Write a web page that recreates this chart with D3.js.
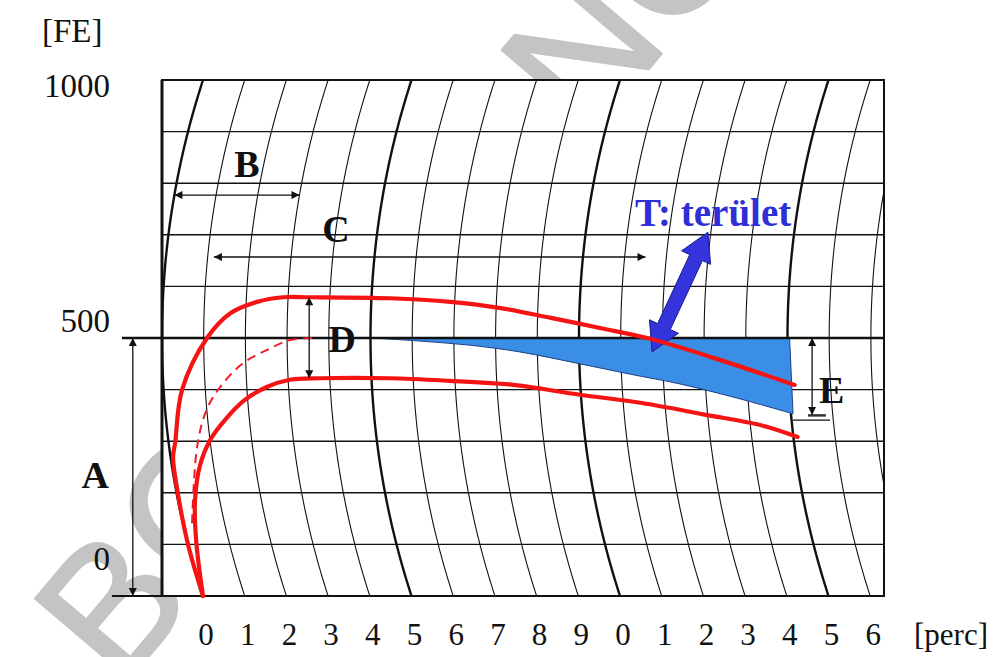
<!DOCTYPE html>
<html><head><meta charset="utf-8">
<script src="https://cdn.jsdelivr.net/npm/d3@7"></script>
<style>body{margin:0;background:#fff}svg{display:block}</style>
</head><body>
<svg id="chart" width="1001" height="657"></svg>
<script>
// ---- data ----------------------------------------------------------------
// time axis in minutes, amplitude axis in FE
const timeTicks  = d3.range(0, 17);
const timeLabels = ["0","1","2","3","4","5","6","7","8","9","0","1","2","3","4","5","6"];
const gridTimes  = d3.range(-1, 18);          // curved time lines of the recording paper
const majorTimes = [0, 5, 10, 15];
const feGrid     = d3.range(0, 1001, 100);
const feTicks    = [1000, 500, 0];
const feTickText = ["1000", "500", "0"];

// traces as [minute, FE]
const upperTrace = [[0,0],[0,99],[0.03,200],[0.06,269],[0.16,298],[0.44,399],[1.08,500],[1.63,548],
  [2.26,570],[2.88,579],[3.53,579],[5.46,577],[6.9,570],[8.11,558],[9.32,539],[10.53,519],
  [11.73,498],[13.24,461],[15.14,409]];
const lowerTrace = [[0,0],[0.22,108],[0.41,186],[0.68,254],[1.0,302],[1.41,341],[1.93,380],[2.48,405],
  [3.04,419],[3.77,422],[5.44,422],[6.88,417],[8.3,410],[9.98,390],[11.45,374],[12.9,352],[14.3,330],[15.1,308]];
const meanTrace  = [[0.22,141],[0.67,289],[0.99,360],[1.36,405],[1.93,451],[2.52,477],[3.07,496],[3.62,500]];
// shaded area T, between the 500 FE level and its lower boundary
const areaLower  = [[5.04,500],[6.19,494],[7.39,486],[8.58,473],[10.01,450],[11.2,430],[12.39,411],[13.81,382],[15.05,353]];

// measured intervals with the level they are drawn at
const spanA = {t: -0.7, from: 0, to: 500};
const spanB = {fe: 777, from: 0, to: 3};
const spanC = {fe: 657, from: 1.15, to: 11.5};
const spanD = {t: 3.53, from: 422, to: 579};
const spanE = {t: 15.59, from: 500, to: 351};
const arrowT = {from: [11.75, 473], to: [12.93, 705]};

// ---- scales --------------------------------------------------------------
const svg = d3.select("#chart");
const plot = {left: 162, top: 80, right: 884, bottom: 596};
const fe = d3.scaleLinear().domain([0, 1000]).range([plot.bottom, plot.top]);
const tm = d3.scaleLinear().domain([0, 16]).range([plot.left, plot.left + 41.7 * 16]);
const armR = 832;                        // radius of the curved time lines
const midY = fe(500);
function px(t, v) {
  const y = fe(v), dy = y - midY;
  return [tm(t) + armR - Math.sqrt(armR * armR - dy * dy), y];
}
const serif = "'Liberation Serif','Times New Roman',serif";
const ink = "#111";

// ---- watermark (sits under the paper) -------------------------------------
svg.append("text")
  .attr("transform", "translate(120,690) rotate(-49.6)")
  .attr("font-family", "'Liberation Sans',Arial,sans-serif")
  .attr("font-size", 180)
  .attr("fill", "#c4c4c4").attr("stroke", "#c4c4c4").attr("stroke-width", 2.5)
  .attr("stroke-linejoin", "round")
  .style("white-space", "pre")
  .text("BCE       NOE");

// ---- paper ---------------------------------------------------------------
const defs = svg.append("defs");
defs.append("clipPath").attr("id", "clip").append("rect")
  .attr("x", plot.left).attr("y", plot.top)
  .attr("width", plot.right - plot.left).attr("height", plot.bottom - plot.top);
defs.append("marker").attr("id", "head")
  .attr("viewBox", "0 0 10 10").attr("refX", 10).attr("refY", 5)
  .attr("markerWidth", 11).attr("markerHeight", 8).attr("markerUnits", "userSpaceOnUse")
  .attr("orient", "auto-start-reverse")
  .append("path").attr("d", "M0,0L10,5L0,10Z").attr("fill", ink);

svg.append("rect").attr("x", plot.left).attr("y", plot.top)
  .attr("width", plot.right - plot.left).attr("height", plot.bottom - plot.top)
  .attr("fill", "#fff");

const grid = svg.append("g").attr("clip-path", "url(#clip)");
grid.selectAll("line.h").data(feGrid).join("line").attr("class", "h")
  .attr("x1", plot.left).attr("x2", plot.right)
  .attr("y1", d => fe(d)).attr("y2", d => fe(d))
  .attr("stroke", ink).attr("stroke-width", 1.4);

const arcLine = d3.line();
grid.selectAll("path.arc").data(gridTimes).join("path").attr("class", "arc")
  .attr("d", t => arcLine(d3.range(0, 1001, 10).map(v => px(t, v))))
  .attr("fill", "none").attr("stroke", ink)
  .attr("stroke-width", t => majorTimes.includes(t) ? 2.4 : 1.1);

// shaded area T
const lowerPts = areaLower.map(p => px(p[0], p[1]));
const lowerPath = d3.line().curve(d3.curveCatmullRom)(lowerPts.slice().reverse());
const tl = px(areaLower[0][0], 500), tr = px(areaLower[areaLower.length - 1][0], 500);
svg.append("path")
  .attr("d", `M${tl}L${tr}L${lowerPath.slice(1)}Z`)
  .attr("fill", "#3a8ee6").attr("stroke", "#1d3f86").attr("stroke-width", 1);

// frame and reference levels
svg.append("rect").attr("x", plot.left).attr("y", plot.top)
  .attr("width", plot.right - plot.left).attr("height", plot.bottom - plot.top)
  .attr("fill", "none").attr("stroke", ink).attr("stroke-width", 2);
svg.append("line").attr("x1", plot.left).attr("x2", plot.left)
  .attr("y1", plot.top).attr("y2", plot.bottom).attr("stroke", ink).attr("stroke-width", 3);
svg.append("line").attr("x1", tm(-0.96)).attr("x2", plot.right)
  .attr("y1", fe(500)).attr("y2", fe(500)).attr("stroke", ink).attr("stroke-width", 2.6);
svg.append("line").attr("x1", tm(-1.2)).attr("x2", plot.right)
  .attr("y1", fe(0)).attr("y2", fe(0)).attr("stroke", ink).attr("stroke-width", 2);

// T arrow
(function () {
  const a = px(...arrowT.from), b = px(...arrowT.to);
  const dx = b[0] - a[0], dy = b[1] - a[1], L = Math.hypot(dx, dy);
  const u = [dx / L, dy / L], n = [-u[1], u[0]];
  const hl = 28, hw = 16, sw = 7;
  const P = (p, s, w) => [p[0] + u[0] * s + n[0] * w, p[1] + u[1] * s + n[1] * w];
  const pts = [a, P(a, hl, hw), P(a, hl, sw), P(b, -hl, sw), P(b, -hl, hw), b,
               P(b, -hl, -hw), P(b, -hl, -sw), P(a, hl, -sw), P(a, hl, -hw)];
  svg.append("path").attr("d", "M" + pts.join("L") + "Z")
    .attr("fill", "#3434dc").attr("stroke", "#1c1c8c").attr("stroke-width", 1);
})();

// traces
const traceLine = d3.line().curve(d3.curveCatmullRom.alpha(0.5))
  .x(d => px(d[0], d[1])[0]).y(d => px(d[0], d[1])[1]);
svg.append("path").attr("d", traceLine(meanTrace)).attr("fill", "none")
  .attr("stroke", "#ee1c2a").attr("stroke-width", 2).attr("stroke-dasharray", "9,6");
[upperTrace, lowerTrace].forEach(tr => {
  svg.append("path").attr("d", traceLine(tr)).attr("fill", "none")
    .attr("stroke", "#f51414").attr("stroke-width", 4.2).attr("stroke-linecap", "round");
});

// ---- measurement arrows --------------------------------------------------
function span(x1, y1, x2, y2) {
  svg.append("line").attr("x1", x1).attr("y1", y1).attr("x2", x2).attr("y2", y2)
    .attr("stroke", ink).attr("stroke-width", 1.3)
    .attr("marker-start", "url(#head)").attr("marker-end", "url(#head)");
}
span(tm(spanA.t), fe(spanA.to), tm(spanA.t), fe(spanA.from));
span(px(spanB.from, spanB.fe)[0], fe(spanB.fe), px(spanB.to, spanB.fe)[0], fe(spanB.fe));
span(px(spanC.from, spanC.fe)[0], fe(spanC.fe), px(spanC.to, spanC.fe)[0], fe(spanC.fe));
span(tm(spanD.t), fe(spanD.to), tm(spanD.t), fe(spanD.from));
span(tm(spanE.t), fe(spanE.from), tm(spanE.t), fe(spanE.to));
// end marks under E
svg.append("line").attr("x1", tm(15.13)).attr("x2", tm(16.02)).attr("y1", fe(341)).attr("y2", fe(341))
  .attr("stroke", ink).attr("stroke-width", 1.2);
svg.append("line").attr("x1", tm(15.49)).attr("x2", tm(15.92)).attr("y1", fe(350)).attr("y2", fe(350))
  .attr("stroke", "#333").attr("stroke-width", 2.5);

// ---- letters -------------------------------------------------------------
const letters = [
  {s: "A", t: -1.6, v: 210},
  {s: "B", t: 1.66, v: 812},
  {s: "C", t: 4.04, v: 686},
  {s: "D", t: 4.32, v: 473},
  {s: "E", t: 16.0, v: 374}
];
svg.selectAll("text.letter").data(letters).join("text").attr("class", "letter")
  .attr("x", d => d.t < 0 ? tm(d.t) : px(d.t, d.v)[0]).attr("y", d => fe(d.v))
  .attr("text-anchor", "middle").attr("font-family", serif).attr("font-weight", "bold")
  .attr("font-size", 38).attr("fill", ink).text(d => d.s);

svg.append("text").attr("x", px(11.16, 717)[0]).attr("y", fe(717))
  .attr("font-family", serif).attr("font-weight", "bold").attr("font-size", 39)
  .attr("fill", "#2f2fd8").text("T: terület");

// ---- axes labels ---------------------------------------------------------
const feShift = [17, -6, -26];
svg.selectAll("text.fe").data(feTicks).join("text").attr("class", "fe")
  .attr("x", 110).attr("y", (d, i) => fe(d) + feShift[i])
  .attr("text-anchor", "end").attr("font-family", serif).attr("font-size", 33)
  .attr("fill", ink).text((d, i) => feTickText[i]);
svg.append("text").attr("x", 42).attr("y", 42).attr("font-family", serif)
  .attr("font-size", 33).attr("fill", ink).text("[FE]");

svg.selectAll("text.tm").data(timeTicks).join("text").attr("class", "tm")
  .attr("x", d => px(d, 0)[0] + 3).attr("y", 645)
  .attr("text-anchor", "middle").attr("font-family", serif).attr("font-size", 31)
  .attr("fill", ink).text((d, i) => timeLabels[i]);
svg.append("text").attr("x", 914).attr("y", 645).attr("font-family", serif)
  .attr("font-size", 31).attr("fill", ink).text("[perc]");
</script>
</body></html>
